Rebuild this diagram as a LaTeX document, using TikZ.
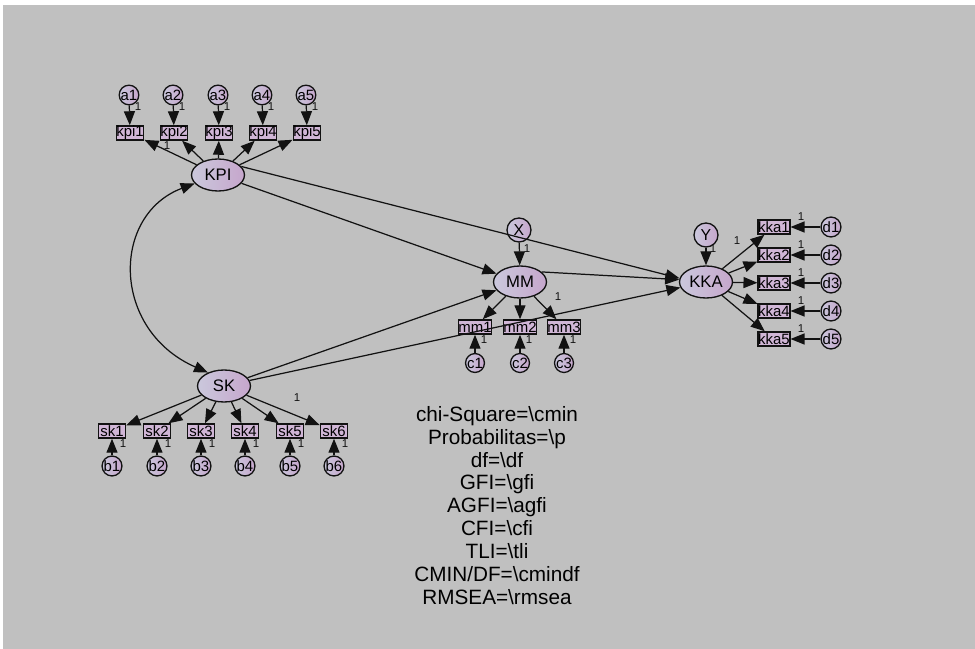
\documentclass[tikz,border=0pt]{standalone}
\usepackage{fontspec}
\setmainfont{Liberation Sans}
\usetikzlibrary{arrows.meta,shapes.geometric}

\definecolor{bggray}{RGB}{192,192,192}
\definecolor{ellleft}{RGB}{202,200,220}
\definecolor{ellright}{RGB}{198,166,204}
\definecolor{boxfill}{RGB}{208,182,214}
\definecolor{linedark}{RGB}{18,18,18}

\begin{document}
\begin{tikzpicture}[x=0.02cm,y=-0.02cm]
\tikzset{
  latent/.style={ellipse,draw=linedark,line width=0.75pt,left color=ellleft,right color=ellright,minimum width=1.06cm,minimum height=0.64cm,inner sep=0pt,font=\fontsize{9.5}{10}\selectfont},
  disturb/.style={circle,draw=linedark,line width=0.75pt,left color=ellleft,right color=ellright,minimum size=0.48cm,inner sep=0pt,font=\fontsize{9}{10}\selectfont},
  errnode/.style={circle,draw=linedark,line width=0.75pt,left color=ellleft,right color=ellright,minimum size=0.3cm,inner sep=0pt,font=\fontsize{8.5}{9}\selectfont},
  obsbox/.style={rectangle,draw=linedark,line width=0.85pt,fill=boxfill,minimum width=0.54cm,minimum height=0.28cm,inner sep=0pt,font=\fontsize{8.5}{9}\selectfont},
  regpath/.style={draw=linedark,line width=0.7pt,-{Triangle[length=2.8mm,width=2.2mm]}},
  covpath/.style={draw=linedark,line width=0.7pt,{Triangle[length=2.8mm,width=2.2mm]}-{Triangle[length=2.8mm,width=2.2mm]}},
  weight/.style={inner sep=0pt,font=\fontsize{6.5}{7}\selectfont,text=linedark},
  fitnote/.style={align=center,inner sep=0pt,font=\fontsize{11.8}{13}\selectfont,text=black}
}
\useasboundingbox (0,0) rectangle (975,649);
\fill[bggray] (3,5) rectangle (975,649);
% latent variables
\node[latent] (n_KPI) at (218,175) {KPI};
\node[latent] (n_SK) at (224,386) {SK};
\node[latent] (n_MM) at (520,282) {MM};
\node[latent] (n_KKA) at (706,282) {KKA};
\node[disturb] (n_X) at (519,230) {X};
\node[disturb] (n_Y) at (706,235) {Y};
% KPI indicators
\node[obsbox] (n_kpi1) at (130,133) {kpi1};
\node[obsbox] (n_kpi2) at (174,133) {kpi2};
\node[obsbox] (n_kpi3) at (219,133) {kpi3};
\node[obsbox] (n_kpi4) at (263,133) {kpi4};
\node[obsbox] (n_kpi5) at (307,133) {kpi5};
\node[errnode] (n_a1) at (129,95) {a1};
\node[errnode] (n_a2) at (173,95) {a2};
\node[errnode] (n_a3) at (218,95) {a3};
\node[errnode] (n_a4) at (262,95) {a4};
\node[errnode] (n_a5) at (306,95) {a5};
% SK indicators
\node[obsbox] (n_sk1) at (112,431) {sk1};
\node[obsbox] (n_sk2) at (157,431) {sk2};
\node[obsbox] (n_sk3) at (201,431) {sk3};
\node[obsbox] (n_sk4) at (245,431) {sk4};
\node[obsbox] (n_sk5) at (290,431) {sk5};
\node[obsbox] (n_sk6) at (334,431) {sk6};
\node[errnode] (n_b1) at (112,466) {b1};
\node[errnode] (n_b2) at (157,466) {b2};
\node[errnode] (n_b3) at (201,466) {b3};
\node[errnode] (n_b4) at (245,466) {b4};
\node[errnode] (n_b5) at (290,466) {b5};
\node[errnode] (n_b6) at (334,466) {b6};
% MM indicators
\node[obsbox] (n_mm1) at (475,327) {mm1};
\node[obsbox] (n_mm2) at (520,327) {mm2};
\node[obsbox] (n_mm3) at (564,327) {mm3};
\node[errnode] (n_c1) at (475,363) {c1};
\node[errnode] (n_c2) at (520,363) {c2};
\node[errnode] (n_c3) at (564,363) {c3};
% KKA indicators
\node[obsbox] (n_kka1) at (774,227) {kka1};
\node[obsbox] (n_kka2) at (774,255) {kka2};
\node[obsbox] (n_kka3) at (774,283) {kka3};
\node[obsbox] (n_kka4) at (774,311) {kka4};
\node[obsbox] (n_kka5) at (774,339) {kka5};
\node[errnode] (n_d1) at (831,227) {d1};
\node[errnode] (n_d2) at (831,255) {d2};
\node[errnode] (n_d3) at (831,283) {d3};
\node[errnode] (n_d4) at (831,311) {d4};
\node[errnode] (n_d5) at (831,339) {d5};
% structural paths
\draw[covpath] (n_KPI.200) .. controls (111,215) and (111,330) .. (n_SK.140);
\draw[regpath] (n_KPI) -- (n_MM);
\draw[regpath] (n_KPI.20) -- (n_KKA.172);
\draw[regpath] (n_SK) -- (n_MM);
\draw[regpath] (n_SK) -- (n_KKA);
\draw[regpath] (n_MM.25) -- (n_KKA.175);
\draw[regpath] (n_X) -- (n_MM);
\draw[regpath] (n_Y) -- (n_KKA);
% loadings
\draw[regpath] (n_KPI) -- (n_kpi1);
\draw[regpath] (n_KPI) -- (n_kpi2);
\draw[regpath] (n_KPI) -- (n_kpi3);
\draw[regpath] (n_KPI) -- (n_kpi4);
\draw[regpath] (n_KPI) -- (n_kpi5);
\draw[regpath] (n_SK) -- (n_sk1);
\draw[regpath] (n_SK) -- (n_sk2);
\draw[regpath] (n_SK) -- (n_sk3);
\draw[regpath] (n_SK) -- (n_sk4);
\draw[regpath] (n_SK) -- (n_sk5);
\draw[regpath] (n_SK) -- (n_sk6);
\draw[regpath] (n_MM) -- (n_mm1);
\draw[regpath] (n_MM) -- (n_mm2);
\draw[regpath] (n_MM) -- (n_mm3);
\draw[regpath] (n_KKA) -- (n_kka1);
\draw[regpath] (n_KKA) -- (n_kka2);
\draw[regpath] (n_KKA) -- (n_kka3);
\draw[regpath] (n_KKA) -- (n_kka4);
\draw[regpath] (n_KKA) -- (n_kka5);
% error terms
\draw[regpath] (n_a1) -- (n_kpi1);
\draw[regpath] (n_a2) -- (n_kpi2);
\draw[regpath] (n_a3) -- (n_kpi3);
\draw[regpath] (n_a4) -- (n_kpi4);
\draw[regpath] (n_a5) -- (n_kpi5);
\draw[regpath] (n_b1) -- (n_sk1);
\draw[regpath] (n_b2) -- (n_sk2);
\draw[regpath] (n_b3) -- (n_sk3);
\draw[regpath] (n_b4) -- (n_sk4);
\draw[regpath] (n_b5) -- (n_sk5);
\draw[regpath] (n_b6) -- (n_sk6);
\draw[regpath] (n_c1) -- (n_mm1);
\draw[regpath] (n_c2) -- (n_mm2);
\draw[regpath] (n_c3) -- (n_mm3);
\draw[regpath] (n_d1) -- (n_kka1);
\draw[regpath] (n_d2) -- (n_kka2);
\draw[regpath] (n_d3) -- (n_kka3);
\draw[regpath] (n_d4) -- (n_kka4);
\draw[regpath] (n_d5) -- (n_kka5);
% fixed weights
\node[weight] (w_a1) at (138,107) {1};
\node[weight] (w_a2) at (182,107) {1};
\node[weight] (w_a3) at (227,107) {1};
\node[weight] (w_a4) at (271,107) {1};
\node[weight] (w_a5) at (315,107) {1};
\node[weight] (w_kpi2) at (167,146) {1};
\node[weight] (w_b1) at (123,444) {1};
\node[weight] (w_b2) at (168,444) {1};
\node[weight] (w_b3) at (212,444) {1};
\node[weight] (w_b4) at (256,444) {1};
\node[weight] (w_b5) at (301,444) {1};
\node[weight] (w_b6) at (345,444) {1};
\node[weight] (w_sk6) at (297,398) {1};
\node[weight] (w_c1) at (484,340) {1};
\node[weight] (w_c2) at (529,340) {1};
\node[weight] (w_c3) at (573,340) {1};
\node[weight] (w_mm3) at (558,297) {1};
\node[weight] (w_X) at (527,249) {1};
\node[weight] (w_Y) at (713,249) {1};
\node[weight] (w_kka1) at (737,241) {1};
\node[weight] (w_d1) at (801,217) {1};
\node[weight] (w_d2) at (801,245) {1};
\node[weight] (w_d3) at (801,273) {1};
\node[weight] (w_d4) at (801,301) {1};
\node[weight] (w_d5) at (801,329) {1};
% fit indices
\node[fitnote,anchor=north] (n_fit) at (497,406) {chi-Square=\textbackslash cmin\\Probabilitas=\textbackslash p\\df=\textbackslash df\\GFI=\textbackslash gfi\\AGFI=\textbackslash agfi\\CFI=\textbackslash cfi\\TLI=\textbackslash tli\\CMIN/DF=\textbackslash cmindf\\RMSEA=\textbackslash rmsea};
\end{tikzpicture}
\end{document}
